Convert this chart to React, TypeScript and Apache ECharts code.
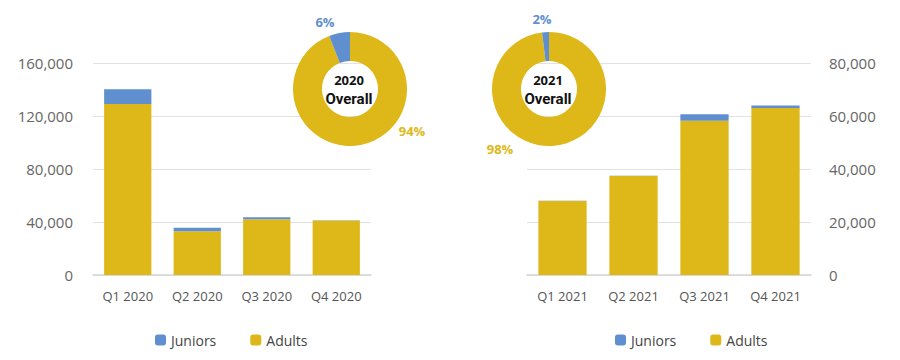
import React, { useEffect, useRef } from "react";
import * as echarts from "echarts";

const categories2020 = ["Q1 2020", "Q2 2020", "Q3 2020", "Q4 2020"];
const adults2020 = [129000, 33000, 42000, 41200];
const juniors2020 = [11200, 2600, 1500, 200];
const categories2021 = ["Q1 2021", "Q2 2021", "Q3 2021", "Q4 2021"];
const adults2021 = [27900, 37400, 58200, 63000];
const juniors2021 = [100, 100, 2500, 1000];
const leftTicks = { min: 0, max: 160000, interval: 40000 };
const rightTicks = { min: 0, max: 80000, interval: 20000 };

const GOLD = "#DDB818";
const BLUE = "#5F8FCF";
const FONT = "'Open Sans', sans-serif";

const sum = (a: number[]) => a.reduce((s, v) => s + v, 0);

export default function App() {
  const ref = useRef<HTMLDivElement>(null);
  useEffect(() => {
    if (!ref.current) return;
    const chart = echarts.init(ref.current, undefined, { renderer: "svg" });
    const a20 = sum(adults2020), j20 = sum(juniors2020);
    const a21 = sum(adults2021), j21 = sum(juniors2021);
    const pct = (v: number, t: number) => Math.round((v / t) * 100) + "%";
    const fmt = (v: number) => v.toLocaleString("en-US");

    const xAxisCommon = {
      type: "category" as const,
      axisTick: { show: false },
      axisLine: { lineStyle: { color: "#d5d5d5", width: 1.5 } },
      axisLabel: { color: "#555", fontSize: 13, fontFamily: FONT, margin: 14 },
    };
    const yAxisCommon = {
      type: "value" as const,
      splitLine: { lineStyle: { color: "#e2e2e2", width: 1.2 } },
      axisLine: { show: false },
      axisTick: { show: false },
    };
    const legendCommon = {
      data: ["Juniors", "Adults"],
      top: 333,
      padding: 0,
      itemWidth: 11,
      itemHeight: 11,
      itemGap: 34,
      icon: "roundRect",
      textStyle: { color: "#444", fontSize: 14, fontFamily: FONT },
    };
    const centerText = (x: number, y: number, text: string, size: number, font: string) => ({
      type: "text", z: 100, x, y,
      style: { text, font: `bold ${size}px ${font}`, fill: "#111", align: "center", verticalAlign: "middle" },
    });
    const pctText = (x: number, y: number, text: string, color: string) => ({
      type: "text", z: 100, x, y,
      style: { text, font: `bold 13px ${FONT}`, fill: color, align: "center", verticalAlign: "middle" },
    });

    chart.setOption({
      animation: false,
      backgroundColor: "#fff",
      grid: [
        { left: 93, right: 529, top: 63, bottom: 85 },
        { left: 527, right: 89, top: 63, bottom: 85 },
      ],
      legend: [
        { ...legendCommon, left: 155 },
        { ...legendCommon, left: 615 },
      ],
      xAxis: [
        { ...xAxisCommon, gridIndex: 0, data: categories2020 },
        { ...xAxisCommon, gridIndex: 1, data: categories2021 },
      ],
      yAxis: [
        {
          ...yAxisCommon,
          gridIndex: 0,
          ...leftTicks,
          axisLabel: { color: "#666", fontSize: 15, fontFamily: FONT, margin: 20, formatter: fmt },
        },
        {
          ...yAxisCommon,
          gridIndex: 1,
          position: "right",
          ...rightTicks,
          axisLabel: { color: "#666", fontSize: 15, fontFamily: FONT, margin: 18, formatter: fmt },
        },
      ],
      series: [
        {
          name: "Adults", type: "bar", stack: "l", xAxisIndex: 0, yAxisIndex: 0,
          data: adults2020, itemStyle: { color: GOLD }, barCategoryGap: "32%",
        },
        {
          name: "Juniors", type: "bar", stack: "l", xAxisIndex: 0, yAxisIndex: 0,
          data: juniors2020, itemStyle: { color: BLUE }, barCategoryGap: "32%",
        },
        {
          name: "Adults", type: "bar", stack: "r", xAxisIndex: 1, yAxisIndex: 1,
          data: adults2021, itemStyle: { color: GOLD }, barCategoryGap: "32%",
        },
        {
          name: "Juniors", type: "bar", stack: "r", xAxisIndex: 1, yAxisIndex: 1,
          data: juniors2021, itemStyle: { color: BLUE }, barCategoryGap: "32%",
        },
        {
          type: "pie", center: [350, 89], radius: [28, 57], startAngle: 90, clockwise: true,
          label: { show: false }, labelLine: { show: false }, z: 10, silent: true,
          emphasis: { disabled: true },
          data: [
            { name: "Adults", value: a20, itemStyle: { color: GOLD } },
            { name: "Juniors", value: j20, itemStyle: { color: BLUE } },
          ],
        },
        {
          type: "pie", center: [549, 89], radius: [28, 57], startAngle: 90, clockwise: true,
          label: { show: false }, labelLine: { show: false }, z: 10, silent: true,
          emphasis: { disabled: true },
          data: [
            { name: "Adults", value: a21, itemStyle: { color: GOLD } },
            { name: "Juniors", value: j21, itemStyle: { color: BLUE } },
          ],
        },
      ],
      graphic: [
        centerText(349, 80, "2020", 13, FONT),
        centerText(349, 99, "Overall", 15, "Roboto, sans-serif"),
        centerText(548, 80, "2021", 13, FONT),
        centerText(548, 99, "Overall", 15, "Roboto, sans-serif"),
        pctText(325, 22, pct(j20, a20 + j20), BLUE),
        pctText(412, 131, pct(a20, a20 + j20), GOLD),
        pctText(542, 19, pct(j21, a21 + j21), BLUE),
        pctText(500, 149, pct(a21, a21 + j21), GOLD),
      ],
    });
    return () => chart.dispose();
  }, []);
  return <div ref={ref} style={{ width: 900, height: 360, position: "absolute", left: 0, top: 0 }} />;
}
